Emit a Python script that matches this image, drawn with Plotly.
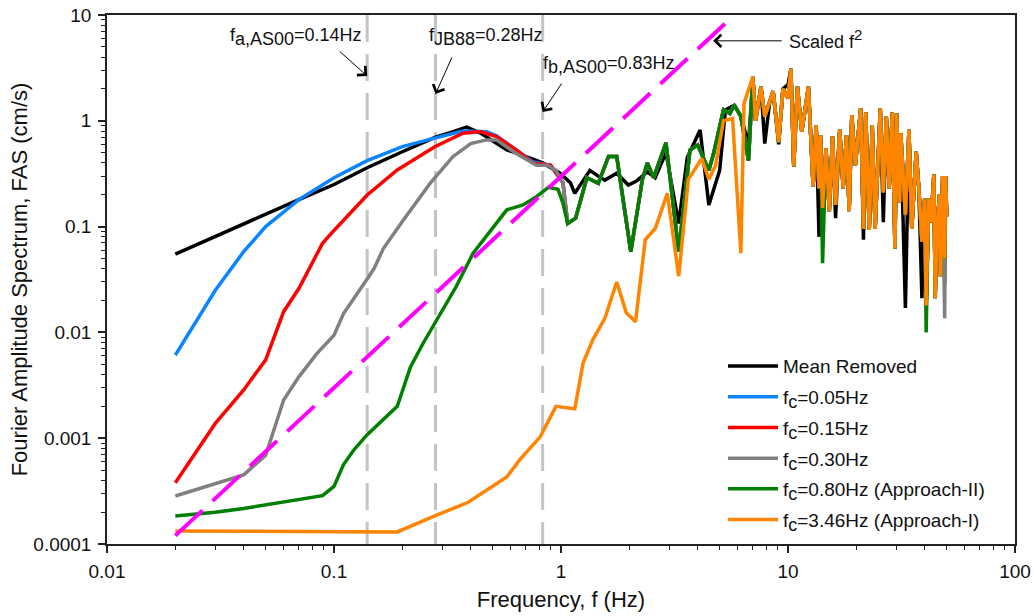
import numpy as np
import plotly.graph_objects as go

# ---------------- data ----------------
# Mean removed record, low/mid frequency part (Hz, cm/s)
f_black = [0.02, 0.03, 0.04, 0.05, 0.07, 0.1, 0.14, 0.2, 0.28, 0.33, 0.384, 0.44, 0.52, 0.577,
           0.63, 0.73, 0.83, 0.99, 1.1, 1.15, 1.34, 1.46, 1.56, 1.76, 1.98, 2.15, 2.4, 2.6,
           2.9, 3.3, 3.6, 4.1, 4.48, 5.0, 5.3, 5.8, 6.2, 6.7]
fas_black = [0.055, 0.081, 0.106, 0.132, 0.18, 0.25, 0.36, 0.51, 0.70, 0.78, 0.87, 0.77, 0.61, 0.53,
             0.50, 0.445, 0.40, 0.32, 0.26, 0.206, 0.34, 0.30, 0.275, 0.32, 0.247, 0.27, 0.33, 0.29,
             0.50, 0.107, 0.45, 0.82, 0.16, 0.34, 1.27, 1.4, 1.1, 0.6]

# fc = 0.05 Hz, low-frequency part
f_blue = [0.02, 0.03, 0.04, 0.05, 0.07, 0.1, 0.14, 0.2, 0.28, 0.37, 0.47, 0.52, 0.635, 0.75, 0.9, 1.02]
fas_blue = [0.0061, 0.025, 0.058, 0.1, 0.18, 0.29, 0.42, 0.57, 0.69, 0.80, 0.79, 0.72, 0.53, 0.41, 0.38, 0.26]

# fc = 0.15 Hz, low-frequency part
f_red = [0.02, 0.03, 0.04, 0.05, 0.06, 0.07, 0.089, 0.1, 0.14, 0.19, 0.278, 0.37, 0.44, 0.52,
         0.635, 0.75, 0.9, 1.02]
fas_red = [0.00038, 0.00138, 0.00286, 0.0055, 0.0157, 0.026, 0.0695, 0.092, 0.199, 0.343, 0.569,
           0.762, 0.79, 0.71, 0.53, 0.40, 0.38, 0.26]

# fc = 0.30 Hz, low-frequency part
f_gray = [0.02, 0.03, 0.04, 0.05, 0.06, 0.07, 0.084, 0.1, 0.11, 0.14, 0.15, 0.165, 0.2, 0.265,
          0.334, 0.40, 0.47, 0.52, 0.635, 0.78, 0.87, 0.95, 1.02]
fas_gray = [0.000284, 0.000375, 0.00045, 0.00069, 0.0023, 0.0038, 0.0063, 0.0094, 0.015, 0.032,
            0.04, 0.062, 0.112, 0.256, 0.458, 0.61, 0.66, 0.66, 0.49, 0.38, 0.38, 0.34, 0.258]

# fc = 0.80 Hz (Approach-II), low-frequency part
f_green = [0.02, 0.03, 0.04, 0.06, 0.089, 0.1, 0.11, 0.122, 0.14, 0.19, 0.217, 0.247, 0.28, 0.345,
           0.41, 0.49, 0.577, 0.68, 0.78, 0.88, 0.97, 1.02]
fas_green = [0.000184, 0.0002, 0.000217, 0.00025, 0.000286, 0.00035, 0.00056, 0.00077, 0.00108,
             0.002, 0.0047, 0.0079, 0.0126, 0.027, 0.056, 0.093, 0.144, 0.16, 0.192, 0.235, 0.225, 0.167]

# fc = 3.46 Hz (Approach-I), low/mid frequency part
f_orange = [0.02, 0.1, 0.19, 0.278, 0.39, 0.577, 0.66, 0.81, 0.95, 1.15, 1.25, 1.38, 1.56, 1.76,
            1.94, 2.13, 2.35, 2.6, 2.94, 3.3, 3.64, 4.17, 4.48, 4.8, 5.2, 5.7, 6.2, 6.4, 6.7]
fas_orange = [0.000133, 0.000131, 0.00013, 0.000184, 0.000248, 0.00043, 0.00063, 0.00103, 0.002,
              0.0019, 0.0051, 0.0085, 0.0136, 0.030, 0.0153, 0.0126, 0.075, 0.096, 0.206, 0.034,
              0.28, 0.44, 0.28, 0.38, 1.0, 1.05, 0.056, 1.46, 2.0]

# mid band shared by fc = 0.05, 0.15, 0.30, 0.80 Hz records
f_mid = [1.07, 1.16, 1.3, 1.46, 1.62, 1.76, 2.03, 2.28, 2.4, 2.56, 2.9, 3.3, 3.7, 4.0, 4.48, 4.7,
         5.2, 5.55, 5.8, 6.2, 6.7]
fas_mid = [0.107, 0.12, 0.29, 0.256, 0.46, 0.46, 0.058, 0.275, 0.40, 0.29, 0.62, 0.058, 0.53, 0.59,
           0.34, 0.49, 1.27, 1.17, 1.41, 1.1, 0.42]

# high-frequency band (7-50 Hz), common to all records
f_hf = [7.0, 7.2, 7.6, 7.9, 8.3, 8.6, 9.1, 9.5, 10.0, 10.3, 10.6, 11.0, 11.5, 12.3, 12.9, 13.3,
        13.7, 13.9, 14.2, 14.7, 15.2, 15.7, 16.2, 16.9, 17.5, 18.1, 18.6, 19.1, 19.8, 20.9, 21.5,
        22.0, 22.8, 23.5, 24.2, 25.5, 26.3, 27.1, 27.9, 28.8, 29.6, 30.1, 31.0, 31.4, 32.9, 34.1,
        35.1, 36.7, 37.7, 38.9, 40.0, 40.6, 41.7, 42.7, 43.9, 44.5, 45.5, 46.5, 47.0, 48.0, 49.0,
        49.5, 50.0]
fas_hf = [2.6, 1.0, 2.1, 1.1, 1.5, 1.9, 0.63, 2.0, 1.63, 3.1, 0.37, 2.1, 0.79, 2.1, 0.24, 0.91,
          0.23, 0.73, 0.15, 0.55, 0.14, 0.71, 0.16, 0.82, 0.23, 0.73, 0.14, 1.13, 0.38, 1.31, 0.095,
          1.2, 0.093, 0.91, 0.095, 1.31, 0.21, 1.1, 0.23, 1.2, 0.062, 1.17, 0.17, 0.76, 0.13, 0.82,
          0.095, 0.51, 0.23, 0.072, 0.184, 0.018, 0.184, 0.11, 0.31, 0.021, 0.11, 0.2, 0.034, 0.3,
          0.05, 0.3, 0.125]
fas_hf_black = [2.6, 1.0, 2.1, 0.61, 1.5, 1.9, 0.6, 2.0, 2.2, 3.1, 0.37, 2.1, 0.79, 2.1, 0.24, 0.91,
                0.08, 0.73, 0.15, 0.55, 0.14, 0.71, 0.12, 0.82, 0.23, 0.73, 0.14, 1.13, 0.38, 1.31, 0.075,
                1.2, 0.093, 0.91, 0.095, 1.31, 0.11, 1.1, 0.23, 1.2, 0.062, 1.17, 0.17, 0.76, 0.017, 0.82,
                0.095, 0.51, 0.23, 0.021, 0.184, 0.018, 0.184, 0.11, 0.31, 0.028, 0.11, 0.2, 0.034, 0.3,
                0.029, 0.3, 0.125]
fas_hf_green = [2.6, 1.0, 2.1, 1.1, 1.5, 1.9, 0.63, 2.0, 1.63, 3.1, 0.37, 2.1, 0.79, 2.1, 0.24, 0.91,
                0.23, 0.73, 0.045, 0.55, 0.14, 0.71, 0.16, 0.82, 0.23, 0.73, 0.14, 1.13, 0.38, 1.31, 0.095,
                1.2, 0.093, 0.91, 0.095, 1.31, 0.21, 1.1, 0.23, 1.2, 0.062, 1.17, 0.17, 0.76, 0.13, 0.82,
                0.095, 0.51, 0.23, 0.072, 0.184, 0.010, 0.184, 0.11, 0.31, 0.021, 0.11, 0.2, 0.034, 0.3,
                0.05, 0.3, 0.125]
fas_hf_gray = [2.6, 1.0, 2.1, 1.1, 1.5, 1.9, 0.63, 2.0, 1.63, 3.1, 0.37, 2.1, 0.79, 2.1, 0.24, 0.91,
               0.23, 0.73, 0.15, 0.55, 0.14, 0.71, 0.16, 0.82, 0.23, 0.73, 0.14, 1.13, 0.38, 1.31, 0.095,
               1.2, 0.093, 0.91, 0.095, 1.31, 0.21, 1.1, 0.23, 1.2, 0.062, 1.17, 0.17, 0.76, 0.13, 0.82,
               0.095, 0.51, 0.23, 0.072, 0.184, 0.018, 0.184, 0.11, 0.31, 0.021, 0.11, 0.2, 0.034, 0.3,
               0.0136, 0.3, 0.125]

# scaled f^2 reference line (end points)
f_sq = [0.02, 5.8]
fas_sq = [0.00012, 10.0]

# corner frequencies marked by vertical lines
f_marks = [0.14, 0.28, 0.83]
SUB = "<sub><span style='font-size:18px'>{}</span></sub>"
mark_labels = ["f" + SUB.format("a,AS00") + "=0.14Hz",
               "f" + SUB.format("JB88") + "=0.28Hz",
               "f" + SUB.format("b,AS00") + "=0.83Hz"]

series_names = ["Mean Removed",
                "f" + SUB.format("c") + "=0.05Hz",
                "f" + SUB.format("c") + "=0.15Hz",
                "f" + SUB.format("c") + "=0.30Hz",
                "f" + SUB.format("c") + "=0.80Hz (Approach-II)",
                "f" + SUB.format("c") + "=3.46Hz (Approach-I)"]
series_colors = ["#000000", "#0A84FF", "#FF0000", "#808080", "#007F00", "#FF8400"]

x_ticks = [0.01, 0.1, 1, 10, 100]
x_ticktext = ["0.01", "0.1", "1", "10", "100"]
y_ticks = [0.0001, 0.001, 0.01, 0.1, 1, 10]
y_ticktext = ["0.0001", "0.001", "0.01", "0.1", "1", "10"]

# ---------------- figure ----------------
FONT = "Arial, 'Liberation Sans', Helvetica, sans-serif"
fig = go.Figure()

# vertical corner-frequency lines (drawn below the spectra)
for fm in f_marks:
    fig.add_trace(go.Scatter(x=[fm, fm], y=[10, 0.0001], mode="lines",
                             line=dict(color="#C4C4C4", width=3, dash="27px,12px"),
                             showlegend=False, hoverinfo="skip"))

series_x = [f_black + f_hf,
            f_blue + f_mid + f_hf,
            f_red + f_mid + f_hf,
            f_gray + f_mid + f_hf,
            f_green + f_mid + f_hf,
            f_orange + f_hf]
series_y = [fas_black + fas_hf_black,
            fas_blue + fas_mid + fas_hf,
            fas_red + fas_mid + fas_hf,
            fas_gray + fas_mid + fas_hf_gray,
            fas_green + fas_mid + fas_hf_green,
            fas_orange + fas_hf]

for i, (xs, ys) in enumerate(zip(series_x, series_y)):
    fig.add_trace(go.Scatter(x=xs, y=ys, mode="lines", name=series_names[i],
                             legendgroup=f"g{i}",
                             line=dict(color=series_colors[i], width=3.5)))

fig.add_trace(go.Scatter(x=f_sq, y=fas_sq, mode="lines",
                         line=dict(color="#FF00FF", width=4, dash="37px,14px"),
                         showlegend=False, hoverinfo="skip"))

# minor tick positions
x_minor = [k * d for d in [0.01, 0.1, 1, 10] for k in range(2, 10)]
y_minor = [k * d for d in [0.0001, 0.001, 0.01, 0.1, 1] for k in range(2, 10)]

axis_common = dict(showgrid=False, zeroline=False, showline=True, linecolor="#222222",
                   linewidth=1.5, mirror=True, ticks="outside", ticklen=7, tickwidth=1.5,
                   tickcolor="#222222", automargin=False,
                   tickfont=dict(family=FONT, size=19, color="#111111"))

fig.update_xaxes(type="log", range=[-2, 2], tickmode="array", tickvals=x_ticks,
                 ticktext=x_ticktext, ticklabelstandoff=2,
                 minor=dict(tickmode="array", tickvals=x_minor, ticks="outside", ticklen=4,
                            tickwidth=1, tickcolor="#222222", showgrid=False),
                 title=dict(text="Frequency, f (Hz)", font=dict(family=FONT, size=22, color="#111111"),
                            standoff=11),
                 **axis_common)
fig.update_yaxes(type="log", range=[-4, 1], tickmode="array", tickvals=y_ticks,
                 ticktext=y_ticktext, ticklabelstandoff=3,
                 minor=dict(tickmode="array", tickvals=y_minor, ticks="outside", ticklen=4,
                            tickwidth=1, tickcolor="#222222", showgrid=False),
                 title=dict(text="Fourier Amplitude Spectrum, FAS (cm/s)",
                            font=dict(family=FONT, size=22, color="#111111"), standoff=0),
                 **axis_common)

# arrows (heads placed on the marked frequency lines / the f^2 line)
arrow_heads = [(f_marks[0], 2.65, -29, -26), (f_marks[1], 1.79, 17, -38), (f_marks[2], 1.21, 20, -30)]
annotations = []
for fx, fy, ax, ay in arrow_heads:
    annotations.append(dict(x=np.log10(fx), y=np.log10(fy), xref="x", yref="y", text="",
                            showarrow=True, ax=ax, ay=ay, arrowhead=4, arrowsize=2.4,
                            arrowwidth=1, arrowcolor="#000000"))
annotations.append(dict(x=np.log10(4.68), y=np.log10(5.7), xref="x", yref="y", text="",
                        showarrow=True, ax=70, ay=0, arrowhead=4, arrowsize=2.4,
                        arrowwidth=1, arrowcolor="#000000"))

# text labels (paper positions)
label_pos = [(0.1333, 0.958), (0.3524, 0.958), (0.4780, 0.905)]
for (px, py), txt in zip(label_pos, mark_labels):
    annotations.append(dict(x=px, y=py, xref="paper", yref="paper", text=txt, showarrow=False,
                            xanchor="left", yanchor="middle",
                            font=dict(family=FONT, size=18, color="#111111")))
annotations.append(dict(x=0.749, y=0.955, xref="paper", yref="paper",
                        text="Scaled f<sup><span style='font-size:15px'>2</span></sup>",
                        showarrow=False, xanchor="left", yanchor="middle",
                        font=dict(family=FONT, size=18, color="#111111")))

fig.update_layout(
    width=1034, height=616,
    margin=dict(l=107, r=19, t=15, b=72),
    paper_bgcolor="white", plot_bgcolor="white",
    font=dict(family=FONT, size=19, color="#111111"),
    annotations=annotations,
    legend=dict(x=0.6784, y=0.372, xanchor="left", yanchor="top", bgcolor="rgba(0,0,0,0)",
                font=dict(family=FONT, size=19, color="#111111"), tracegroupgap=3,
                itemwidth=50),
)

# the page's default body margin would shift the 1034x616 figure; remove it
fig.write_html("out.html", config={"displayModeBar": False},
               post_script="document.body.style.margin='0px';document.body.style.overflow='hidden';")
